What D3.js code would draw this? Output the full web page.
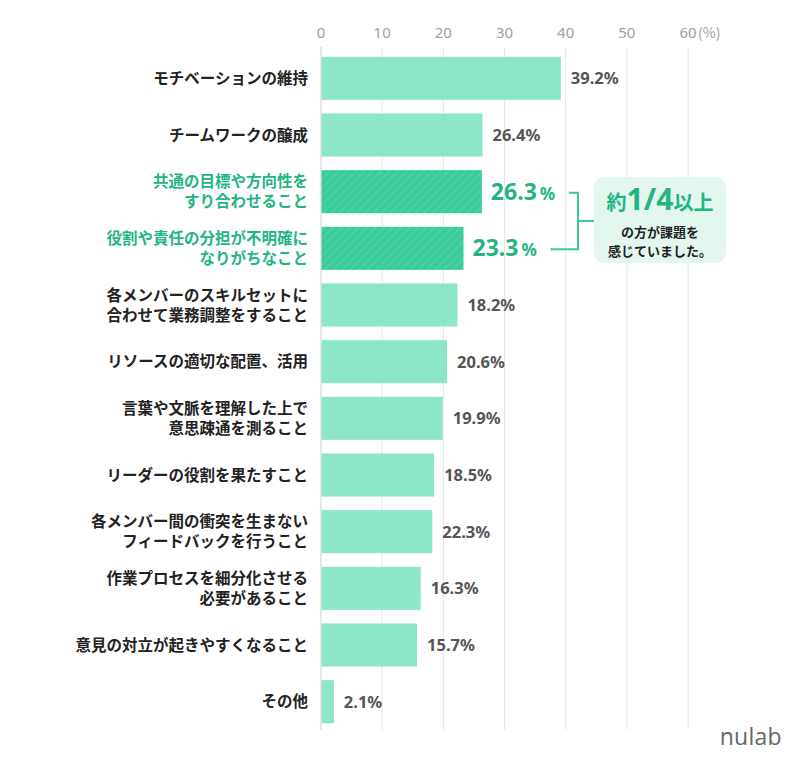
<!DOCTYPE html>
<html><head><meta charset="utf-8">
<script src="https://cdn.jsdelivr.net/npm/d3@7"></script>
<style>
body{margin:0;background:#fff;}
svg{display:block;font-family:"Noto Sans CJK JP","Noto Sans",sans-serif;}
</style></head>
<body>
<script>
const categories = [
  ["モチベーションの維持"],
  ["チームワークの醸成"],
  ["共通の目標や方向性を","すり合わせること"],
  ["役割や責任の分担が不明確に","なりがちなこと"],
  ["各メンバーのスキルセットに","合わせて業務調整をすること"],
  ["リソースの適切な配置、活用"],
  ["言葉や文脈を理解した上で","意思疎通を測ること"],
  ["リーダーの役割を果たすこと"],
  ["各メンバー間の衝突を生まない","フィードバックを行うこと"],
  ["作業プロセスを細分化させる","必要があること"],
  ["意見の対立が起きやすくなること"],
  ["その他"]
];
// bar lengths as drawn in the picture
const barValues = [39.2, 26.4, 26.3, 23.3, 22.3, 20.6, 19.9, 18.5, 18.2, 16.3, 15.7, 2.1];
// value labels as printed in the picture
const valueLabels = ["39.2", "26.4", "26.3", "23.3", "18.2", "20.6", "19.9", "18.5", "22.3", "16.3", "15.7", "2.1"];
const highlighted = [false, false, true, true, false, false, false, false, false, false, false, false];
const ticks = [0, 10, 20, 30, 40, 50, 60];

const W = 800, H = 759;
const svg = d3.select("body").append("svg").attr("width", W).attr("height", H);

const x = d3.scaleLinear().domain([0, 60]).range([321, 688]);
const y = d3.scaleBand().domain(d3.range(categories.length)).range([50, 730]).paddingInner(0.24).paddingOuter(0.12);

const defs = svg.append("defs");
const pat = defs.append("pattern").attr("id", "hatch").attr("patternUnits", "userSpaceOnUse")
  .attr("width", 6).attr("height", 6).attr("patternTransform", "rotate(45)");
pat.append("rect").attr("width", 6).attr("height", 6).attr("fill", "#3ccc9a");
pat.append("line").attr("x1", 0).attr("y1", 0).attr("x2", 0).attr("y2", 6)
  .attr("stroke", "#62d8ae").attr("stroke-width", 1.2);

// grid
svg.append("g").selectAll("line").data(ticks).join("line")
  .attr("x1", d => x(d)).attr("x2", d => x(d))
  .attr("y1", 47).attr("y2", 730)
  .attr("stroke", d => d === 0 ? "#cfcfcf" : "#e6e6e6").attr("stroke-width", 1);

// tick labels
svg.append("g").selectAll("text").data(ticks).join("text")
  .attr("x", d => x(d)).attr("y", 38).attr("text-anchor", "middle")
  .attr("fill", "#a0a0a0").attr("font-size", 15).attr("font-family", "'Noto Sans', sans-serif")
  .text(d => d);
svg.append("text").attr("x", x(60) + 10).attr("y", 38).attr("fill", "#a0a0a0")
  .attr("font-size", 14).text("(%)");

// bars
svg.append("g").selectAll("rect").data(barValues).join("rect")
  .attr("x", x(0) + 0.5).attr("y", (d, i) => y(i))
  .attr("width", d => x(d) - x(0) - 0.5).attr("height", y.bandwidth())
  .attr("fill", (d, i) => highlighted[i] ? "url(#hatch)" : "#8de6c8");

// category labels
const lab = svg.append("g").selectAll("text").data(categories).join("text")
  .attr("text-anchor", "end").attr("font-size", 15.5).attr("font-weight", 700)
  .attr("fill", (d, i) => highlighted[i] ? "#22b582" : "#222");
lab.each(function(d, i) {
  const cy = y(i) + y.bandwidth() / 2;
  const n = d.length;
  d.forEach((line, k) => {
    d3.select(this).append("tspan").attr("x", 308)
      .attr("y", cy + (k - (n - 1) / 2) * 20 + 5.5).text(line);
  });
});

// value labels
barValues.forEach((v, i) => {
  const cy = y(i) + y.bandwidth() / 2;
  if (highlighted[i]) {
    const t = svg.append("text").attr("x", x(v) + 9).attr("y", cy + 8)
      .attr("fill", "#22b582").attr("font-weight", 700).attr("font-family", "'Noto Sans', sans-serif");
    t.append("tspan").attr("font-size", 23).text(valueLabels[i]);
    t.append("tspan").attr("font-size", 17).attr("dx", 3).text("%");
  } else {
    svg.append("text").attr("x", x(v) + 10).attr("y", cy + 6)
      .attr("fill", "#555").attr("font-weight", 700).attr("font-size", 16.5)
      .attr("font-family", "'Noto Sans', sans-serif")
      .text(valueLabels[i] + "%");
  }
});

// bracket
const y1 = y(2) + y.bandwidth() / 2 + 1, y2 = y(3) + y.bandwidth() / 2 + 1;
const bx = 578, boxL = 594;
svg.append("path")
  .attr("d", `M${x(barValues[2]) + 87},${y1} H${bx} V${y2} H${x(barValues[3]) + 87}`)
  .attr("fill", "none").attr("stroke", "#3cc99a").attr("stroke-width", 2);
svg.append("line").attr("x1", bx).attr("x2", boxL).attr("y1", (y1 + y2) / 2).attr("y2", (y1 + y2) / 2)
  .attr("stroke", "#3cc99a").attr("stroke-width", 2);

// callout
svg.append("rect").attr("x", boxL).attr("y", 177).attr("width", 132).attr("height", 86)
  .attr("rx", 11).attr("fill", "#e3f7ef");
const cx = boxL + 66;
const t1 = svg.append("text").attr("x", cx).attr("y", 210).attr("text-anchor", "middle")
  .attr("fill", "#22b582").attr("font-weight", 700);
t1.append("tspan").attr("font-size", 20).text("約");
t1.append("tspan").attr("font-size", 30).attr("font-family", "'Noto Sans', sans-serif").text("1/4");
t1.append("tspan").attr("font-size", 20).text("以上");
svg.append("text").attr("x", cx).attr("y", 237).attr("text-anchor", "middle")
  .attr("font-size", 13).attr("font-weight", 700).attr("fill", "#222").text("の方が課題を");
svg.append("text").attr("x", cx).attr("y", 256).attr("text-anchor", "middle")
  .attr("font-size", 13).attr("font-weight", 700).attr("fill", "#222").text("感じていました。");

// logo
svg.append("text").attr("x", 782).attr("y", 745).attr("text-anchor", "end")
  .attr("font-size", 23).attr("fill", "#666").attr("font-family", "'Open Sans', Lato, sans-serif")
  .attr("letter-spacing", 0.3).text("nulab");
</script>
</body></html>
